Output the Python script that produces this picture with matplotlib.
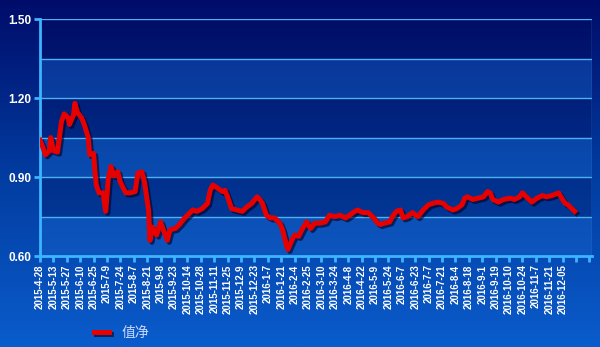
import numpy as np
import matplotlib
matplotlib.use("Agg")
import matplotlib.pyplot as plt
import matplotlib.patheffects as pe

# trading-day index and net value
DAYS = [0, 2, 4, 7, 8, 10, 13, 16, 18, 21, 22, 25, 26, 28, 31, 33, 36, 37, 40, 41,
        42, 44, 47, 49, 51, 53, 55, 58, 60, 64, 67, 71, 73, 76, 78, 81, 82, 84, 87, 90,
        92, 95, 97, 101, 104, 108, 112, 114, 117, 121, 125, 127, 129, 132, 136, 138, 140, 143, 147, 151,
        154, 158, 162, 164, 166, 169, 172, 175, 179, 181, 184, 185, 188, 190, 193, 196, 199, 202, 205, 209,
        213, 216, 220, 224, 228, 231, 235, 237, 241, 245, 249, 252, 254, 257, 261, 263, 266, 269, 271, 274,
        278, 282, 286, 290, 293, 297, 301, 304, 308, 311, 315, 317, 319, 323, 327, 331, 334, 336, 338, 342,
        346, 351, 354, 358, 360, 363, 367, 371, 375, 378, 382, 387, 390, 392, 394, 397, 399]
NAV = [1.04, 1.015, 0.985, 1.00, 1.05, 1.00, 0.995, 1.11, 1.14, 1.125, 1.10, 1.135, 1.18, 1.145, 1.125, 1.10, 1.05, 0.985, 0.99, 0.92,
       0.87, 0.84, 0.84, 0.77, 0.895, 0.94, 0.905, 0.92, 0.88, 0.84, 0.84, 0.845, 0.915, 0.92, 0.88, 0.775, 0.66, 0.71, 0.68, 0.73,
       0.70, 0.66, 0.70, 0.705, 0.72, 0.745, 0.765, 0.775, 0.77, 0.78, 0.80, 0.85, 0.87, 0.86, 0.845, 0.85, 0.825, 0.78, 0.775, 0.77,
       0.785, 0.80, 0.825, 0.815, 0.80, 0.755, 0.745, 0.745, 0.725, 0.70, 0.64, 0.625, 0.66, 0.68, 0.675, 0.705, 0.73, 0.705, 0.725, 0.725,
       0.73, 0.755, 0.75, 0.755, 0.745, 0.755, 0.77, 0.775, 0.765, 0.765, 0.745, 0.725, 0.72, 0.725, 0.73, 0.75, 0.77, 0.775, 0.745, 0.75,
       0.765, 0.75, 0.775, 0.795, 0.80, 0.805, 0.80, 0.785, 0.775, 0.78, 0.795, 0.82, 0.825, 0.815, 0.82, 0.825, 0.845, 0.84, 0.815, 0.805,
       0.815, 0.82, 0.815, 0.825, 0.84, 0.825, 0.805, 0.82, 0.83, 0.825, 0.83, 0.84, 0.815, 0.80, 0.795, 0.78, 0.77]

DATE_LABELS = ["2015-4-28", "2015-5-13", "2015-5-27", "2015-6-10", "2015-6-25", "2015-7-9",
               "2015-7-24", "2015-8-7", "2015-8-21", "2015-9-8", "2015-9-23", "2015-10-14",
               "2015-10-28", "2015-11-11", "2015-11-25", "2015-12-9", "2015-12-23", "2016-1-7",
               "2016-1-21", "2016-2-4", "2016-2-25", "2016-3-10", "2016-3-24", "2016-4-8",
               "2016-4-22", "2016-5-9", "2016-5-24", "2016-6-7", "2016-6-23", "2016-7-7",
               "2016-7-21", "2016-8-4", "2016-8-18", "2016-9-1", "2016-9-19", "2016-10-10",
               "2016-10-24", "2016-11-7", "2016-11-21", "2016-12-05", "", ""]
Y_TICKS = [0.60, 0.90, 1.20, 1.50]
SERIES_NAME = "值净"

CYAN = "#3cb4ff"

fig = plt.figure(figsize=(6, 3.47), dpi=100)

# background gradient
bg = fig.add_axes([0, 0, 1, 1], zorder=-5)
grad = np.linspace(0, 1, 256)[:, None]
cmap = matplotlib.colors.LinearSegmentedColormap.from_list(
    "bg", ["#000c6a", "#023ca0", "#0a5ccc"])
bg.imshow(grad, aspect="auto", cmap=cmap, extent=[0, 1, 0, 1], origin="upper")
bg.axis("off")

ax = fig.add_axes([0.0667, 0.262, 0.92, 0.683])
ax.set_facecolor("none")
ax.set_ylim(0.60, 1.50)
ax.set_xlim(0, 412)

# alternating bands
for lo in (0.60, 0.90, 1.20):
    ax.axhspan(lo, lo + 0.15, color="#1a6ad0", alpha=0.35, lw=0, zorder=0)
for lo in (0.75, 1.05, 1.35):
    ax.axhspan(lo, lo + 0.15, color="#000040", alpha=0.2, lw=0, zorder=0)
for y in (0.75, 0.90, 1.05, 1.20, 1.35, 1.50):
    ax.axhline(y, color="#4fb0f0", lw=1, zorder=1)
ax.axvline(412, color="#2f7fd8", lw=1, zorder=1)

ax.plot(DAYS, NAV, color="#e60000", lw=3.6, solid_joinstyle="round", zorder=3,
        label=SERIES_NAME,
        path_effects=[pe.SimpleLineShadow(offset=(1.5, -1.5), shadow_color="#000020", alpha=0.6),
                      pe.Normal()])

for s in ("top", "right"):
    ax.spines[s].set_visible(False)
for s in ("left", "bottom"):
    ax.spines[s].set_color(CYAN)
    ax.spines[s].set_linewidth(2)

ax.set_yticks(Y_TICKS)
ax.set_yticklabels([f"{v:.2f}" for v in Y_TICKS], fontsize=8.5, fontweight="bold",
                   color="white", family="Liberation Sans")
ax.set_xticks(np.arange(len(DATE_LABELS)) * 10)
ax.set_xticklabels(DATE_LABELS, rotation=90, fontsize=7, fontweight="bold",
                   color="white", family="Liberation Sans")
ax.tick_params(axis="y", colors=CYAN, length=4, width=2, labelcolor="white", pad=2)
ax.tick_params(axis="x", colors=CYAN, length=4, width=2, labelcolor="white", pad=2)

leg = fig.legend(loc="lower left", bbox_to_anchor=(0.135, -0.015), frameon=False,
                 handlelength=1.1, handletextpad=0.9,
                 prop={"family": ["Noto Sans CJK SC", "DejaVu Sans"], "size": 10})
for t in leg.get_texts():
    t.set_color("#c8d8ff")

fig.savefig("out.png", dpi=100)
